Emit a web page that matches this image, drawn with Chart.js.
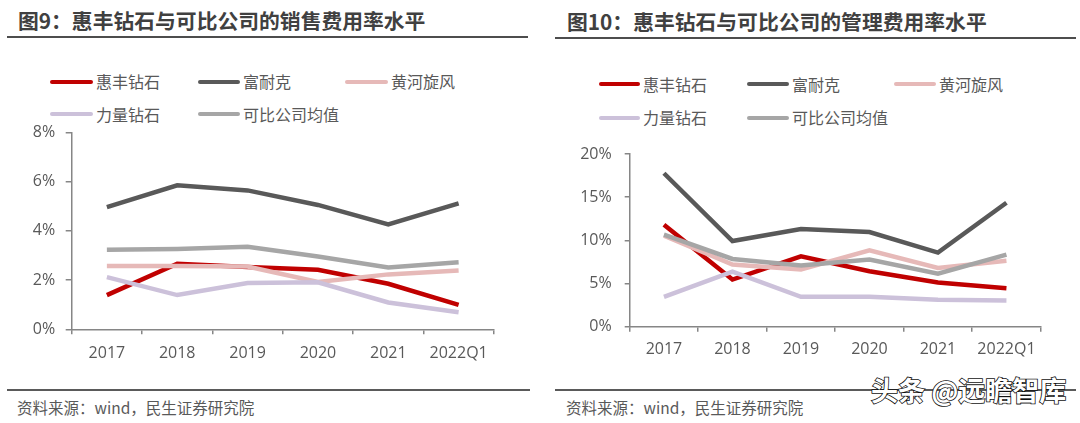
<!DOCTYPE html>
<html><head><meta charset="utf-8">
<script src="https://cdn.jsdelivr.net/npm/chart.js@4.4.0/dist/chart.umd.min.js"></script>
<style>
html,body{margin:0;padding:0;background:#fff;}
body{width:1080px;height:423px;position:relative;overflow:hidden;font-family:"Noto Sans CJK SC","Noto Sans",sans-serif;}
.title{position:absolute;font-weight:bold;font-size:20.8px;color:#404040;white-space:nowrap;line-height:24px;}
.rule{position:absolute;height:2.5px;background:#4d4d4d;}
.frule{position:absolute;height:2px;background:#5a5a5a;}
.leg{position:absolute;font-size:16px;color:#595959;line-height:20px;white-space:nowrap;}
.sw{position:absolute;height:4px;border-radius:2px;}
.src{position:absolute;font-size:15.5px;color:#595959;line-height:20px;white-space:nowrap;}
.wm{position:absolute;font-size:27px;line-height:30px;color:#fff;-webkit-text-stroke:1.6px #111;paint-order:stroke fill;white-space:nowrap;font-weight:bold;}
canvas{position:absolute;}
</style></head><body>
<div class="title" style="left:18px;top:8px;">图9：惠丰钻石与可比公司的销售费用率水平</div>
<div class="rule" style="left:7px;top:35.5px;width:521px;"></div>
<div class="title" style="left:567px;top:9px;">图10：惠丰钻石与可比公司的管理费用率水平</div>
<div class="rule" style="left:555px;top:36.5px;width:521px;"></div>
<div id="legL"></div>
<div id="legR"></div>
<div style="position:absolute;left:0;top:100px;width:540px;height:270px;"><canvas id="c1" width="540" height="270" style="left:0;top:0;width:540px;height:270px;"></canvas></div>
<div style="position:absolute;left:540px;top:120px;width:540px;height:250px;"><canvas id="c2" width="540" height="250" style="left:0;top:0;width:540px;height:250px;"></canvas></div>
<div class="frule" style="left:7px;top:389px;width:523px;"></div>
<div class="frule" style="left:555px;top:389px;width:521px;"></div>
<div class="src" style="left:17px;top:397px;">资料来源：wind，民生证券研究院</div>
<div class="src" style="left:566px;top:397px;">资料来源：wind，民生证券研究院</div>
<div class="wm" style="left:871px;top:375px;">头条 @远瞻智库</div>
<script>
const categories = ['2017','2018','2019','2020','2021','2022Q1'];
const seriesNames = ['惠丰钻石','富耐克','黄河旋风','力量钻石','可比公司均值'];
const seriesColors = ['#C00000','#595959','#E6B9B8','#CCC1DA','#A6A6A6'];

// 图9 销售费用率 (%)
const salesHuifeng = [1.39, 2.66, 2.53, 2.42, 1.85, 0.99];
const salesFunaike = [4.96, 5.85, 5.64, 5.05, 4.26, 5.11];
const salesHuanghe = [2.57, 2.57, 2.55, 1.92, 2.23, 2.39];
const salesLiliang = [2.12, 1.39, 1.88, 1.91, 1.09, 0.69];
const salesAverage = [3.23, 3.26, 3.35, 2.96, 2.51, 2.72];
const salesTicks = [0, 2, 4, 6, 8];

// 图10 管理费用率 (%)
const adminHuifeng = [11.80, 5.46, 8.15, 6.42, 5.12, 4.46];
const adminFunaike = [17.77, 9.92, 11.31, 10.96, 8.58, 14.35];
const adminHuanghe = [10.54, 7.19, 6.62, 8.85, 6.81, 7.65];
const adminLiliang = [3.46, 6.38, 3.46, 3.46, 3.12, 3.04];
const adminAverage = [10.65, 7.85, 7.08, 7.77, 6.15, 8.35];
const adminTicks = [0, 5, 10, 15, 20];

function buildLegend(id, pos) {
  const el = document.getElementById(id);
  let html = '';
  seriesNames.forEach((n, i) => {
    const p = pos[i];
    html += `<div class="sw" style="left:${p[0]}px;top:${p[2]-2}px;width:${p[1]-p[0]}px;background:${seriesColors[i]}"></div>`;
    html += `<div class="leg" style="left:${p[1]+3}px;top:${p[2]-10.5}px;">${n}</div>`;
  });
  el.innerHTML = html;
}
buildLegend('legL', [[50,93,81.5],[198,240,81.5],[345,388,81.5],[50,93,114],[198,240,114]]);
buildLegend('legR', [[599,640,84],[747,789,84],[894,936,84],[599,640,117.5],[747,789,117.5]]);

const axisColor = '#868686';
const tickFont = {family: '"Open Sans","Noto Sans CJK SC",sans-serif', size: 16};

function makeChart(id, data, ticks, opts) {
  const datasets = data.map((d, i) => ({
    label: seriesNames[i], data: d, borderColor: seriesColors[i], backgroundColor: seriesColors[i],
    borderWidth: 4.5, pointRadius: 0, tension: 0, fill: false, order: data.length - i,
    borderCapStyle: 'butt', borderJoinStyle: 'miter'
  }));
  return new Chart(document.getElementById(id), {
    type: 'line',
    data: {labels: categories, datasets},
    options: {
      responsive: false, animation: false, devicePixelRatio: 1,
      layout: {padding: {top: opts.top, right: opts.right, left: 0, bottom: 0}},
      plugins: {legend: {display: false}, tooltip: {enabled: false}},
      scales: {
        x: {
          offset: true,
          grid: {display: true, drawOnChartArea: false, drawTicks: true, tickLength: 5, color: axisColor, lineWidth: 1.5, offset: true},
          border: {display: true, color: axisColor, width: 1.5},
          ticks: {color: '#595959', font: tickFont, padding: opts.xpad, maxRotation: 0, autoSkip: false},
          afterFit: s => { s.height = opts.xh; }
        },
        y: {
          min: ticks[0], max: ticks[ticks.length - 1],
          afterBuildTicks: s => { s.ticks = ticks.map(v => ({value: v})); },
          grid: {display: true, drawOnChartArea: false, drawTicks: true, tickLength: opts.ytl, color: axisColor, lineWidth: 1.5},
          border: {display: true, color: axisColor, width: 1.5},
          ticks: {color: '#595959', font: tickFont, padding: opts.ypad, callback: v => v + '%'},
          afterFit: s => { s.width = opts.yw; }
        }
      }
    }
  });
}

makeChart('c1', [salesHuifeng, salesFunaike, salesHuanghe, salesLiliang, salesAverage], salesTicks,
  {top: 32.3, right: 46.2, xh: 40.7, yw: 71.7, ytl: 6, ypad: 10.5, xpad: 10});
makeChart('c2', [adminHuifeng, adminFunaike, adminHuanghe, adminLiliang, adminAverage], adminTicks,
  {top: 34, right: 39.3, xh: 43.3, yw: 89.7, ytl: 5, ypad: 13, xpad: 8});
</script>
</body></html>
